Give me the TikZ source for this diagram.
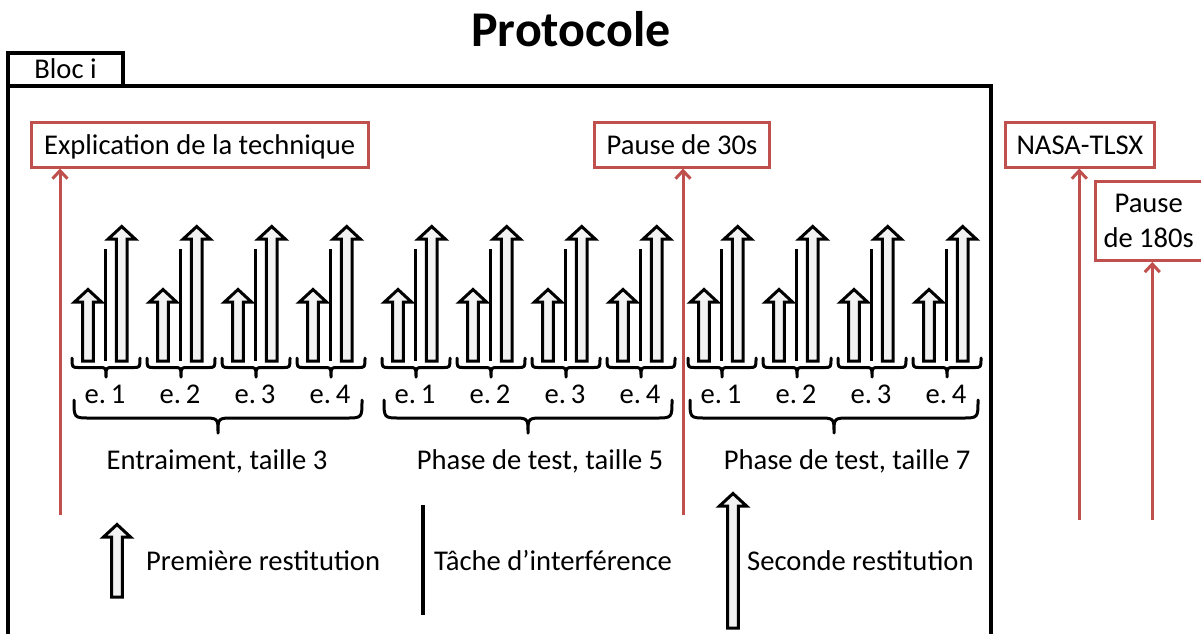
\documentclass[tikz,border=0pt]{standalone}
\usepackage{fontspec}
\setmainfont{Carlito}
\usetikzlibrary{arrows.meta}
\definecolor{redline}{HTML}{C0504D}
\definecolor{arrowfill}{HTML}{F2F2F2}
\tikzset{
  frame/.style={draw=black, line width=3.4pt},
  redbox/.style={draw=redline, line width=3pt, inner sep=0pt, text height=19pt, text depth=0pt, font=\fontsize{28.6}{34}\selectfont},
  redarrow/.style={draw=redline, line width=3pt, -{Straight Barb[length=8pt,width=15pt,line width=3pt]}},
  blockarrow/.style={draw=black, fill=arrowfill, line width=3pt, line join=miter, miter limit=4},
  thinline/.style={draw=black, line width=3.4pt},
  bracestyle/.style={draw=black, line width=3pt, line cap=round, line join=round},
  lbl/.style={inner sep=0pt, font=\fontsize{28.6}{34}\selectfont},
}
% block arrow: x, y of tip, y of bottom
\newcommand\blockarr[3]{%
  \path[blockarrow] ({#1-5.3},{#3}) -- ({#1-5.3},{#2+14}) -- ({#1-13.5},{#2+14}) -- ({#1},{#2+1.5})
    -- ({#1+13.5},{#2+14}) -- ({#1+5.3},{#2+14}) -- ({#1+5.3},{#3}) -- cycle;}
% brace: xa, xb, y ends, y bar, y tip, radius
\newcommand\mybrace[6]{%
  \pgfmathsetmacro\bc{(#1+#2)/2}%
  \path[bracestyle] ({#1},{#3}) .. controls ({#1},{#4}) .. ({#1+#6},{#4}) -- ({\bc-#6},{#4})
    .. controls ({\bc},{#4}) .. ({\bc},{#5}) .. controls ({\bc},{#4}) .. ({\bc+#6},{#4})
    -- ({#2-#6},{#4}) .. controls ({#2},{#4}) .. ({#2},{#3});}
\begin{document}
\begin{tikzpicture}[x=1pt,y=-1pt]
\clip (0,0) rectangle (1201,633);
\fill[white] (0,0) rectangle (1201,633);

% title
\node[inner sep=0pt, anchor=base, font=\fontsize{50}{60}\selectfont\bfseries] (title) at (571,46.7) {Protocole};

% bloc frame and tab
\draw[frame] (8,86) rectangle (991,660);
\draw[frame] (8,86) -- (8,53) -- (123,53) -- (123,86);
\node[lbl, anchor=base] (bloc) at (65.5,78.3) {Bloc i};

% red boxes
\node[redbox, minimum width=336.7pt, minimum height=45pt] (expl) at (199.7,144.5) {Explication de la technique};
\node[redbox, minimum width=174.8pt, minimum height=45pt] (p30) at (682,144.5) {Pause de 30s};
\node[redbox, minimum width=149pt, minimum height=45pt] (nasa) at (1079.9,144.5) {NASA-TLSX};
\node[draw=redline, line width=3pt, inner sep=0pt, minimum width=106.7pt, minimum height=79pt,
      align=center, font=\fontsize{28.6}{34.3}\selectfont] (p180) at (1148.7,220.9) {Pause\\de 180s};

% red arrows
\coordinate (r1) at (60,515);
\coordinate (r2) at (683,515);
\coordinate (r3) at (1079.3,520);
\coordinate (r4) at (1152.3,520);
\draw[redarrow] (r1) -- (r1 |- expl.south);
\draw[redarrow] (r2) -- (r2 |- p30.south);
\draw[redarrow] (r3) -- (r3 |- nasa.south);
\draw[redarrow] (r4) -- (r4 |- p180.south);

% episodes
\foreach \g in {88,398,704} {
  \foreach \i in {0,1,2,3} {
    \pgfmathsetmacro\e{\g+75*\i}
    \pgfmathtruncatemacro\n{\i+1}
    \blockarr{\e}{288}{361}
    \draw[thinline] ({\e+17.7},249) -- ({\e+17.7},361);
    \blockarr{\e+33.7}{225}{361}
    \mybrace{\e-16}{\e+52}{358}{367.5}{377}{7}
    \node[lbl, anchor=base] (ep\g-\n) at ({\e+17},403) {e.\,\n};
  }
  \mybrace{\g-14}{\g+274}{400}{418}{433}{16}
}

% group labels
\node[lbl, anchor=base] (g1) at (217,469) {Entraiment, taille 3};
\node[lbl, anchor=base] (g2) at (540,469) {Phase de test, taille 5};
\node[lbl, anchor=base] (g3) at (847,469) {Phase de test, taille 7};

% legend
\blockarr{117}{523}{597}
\node[lbl, anchor=base west] (leg1) at (146,570) {Première restitution};
\draw[thinline] (423,505) -- (423,615);
\node[lbl, anchor=base west] (leg2) at (434,570) {Tâche d’interférence};
\blockarr{733}{492}{628}
\node[lbl, anchor=base west] (leg3) at (747,570) {Seconde restitution};
\end{tikzpicture}
\end{document}
